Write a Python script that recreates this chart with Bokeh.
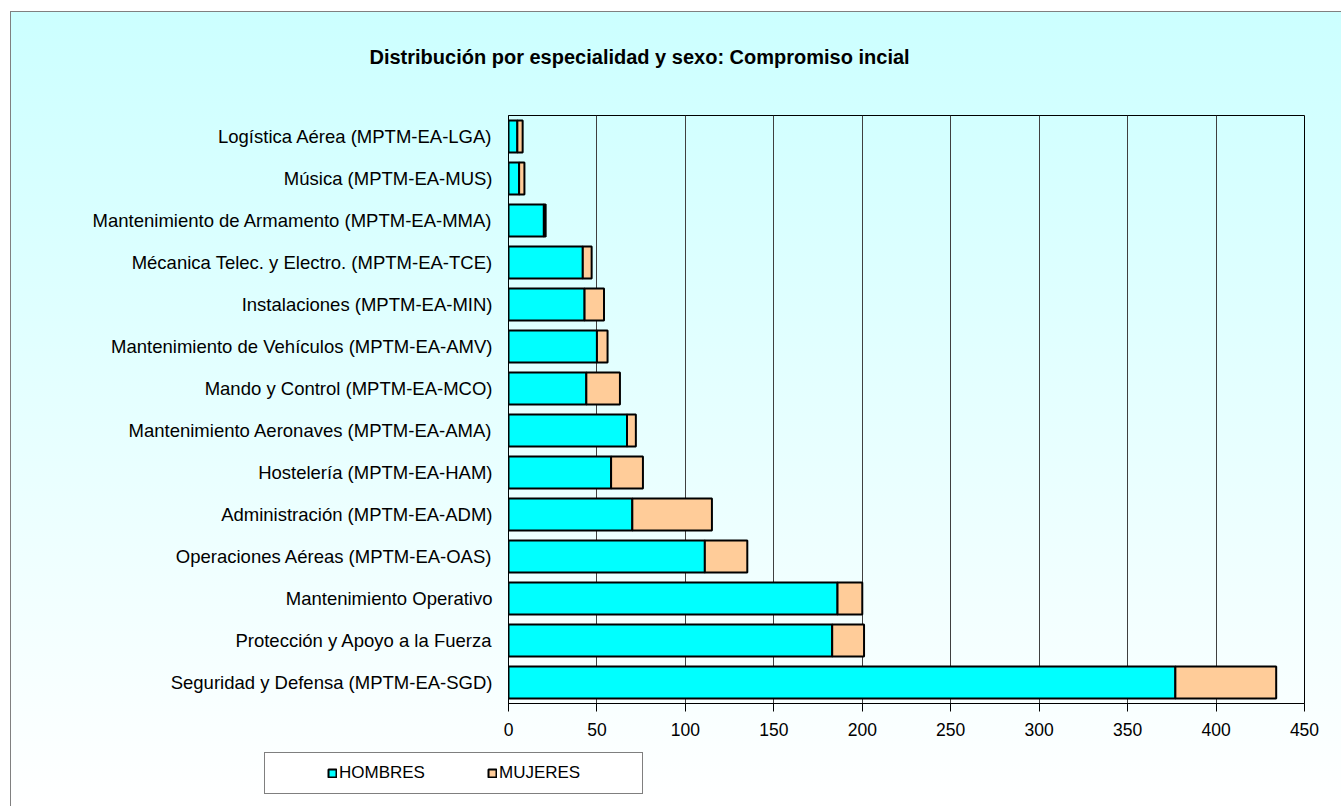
from bokeh.plotting import figure
from bokeh.layouts import column
from bokeh.models import Legend, LegendItem, FactorRange, Title, ColumnDataSource
from bokeh.embed import file_html
from bokeh.resources import INLINE

# Data (listed bottom -> top as drawn)
categories = [
    "Seguridad y Defensa (MPTM-EA-SGD)",
    "Protección y Apoyo a la Fuerza",
    "Mantenimiento Operativo",
    "Operaciones Aéreas (MPTM-EA-OAS)",
    "Administración (MPTM-EA-ADM)",
    "Hostelería (MPTM-EA-HAM)",
    "Mantenimiento Aeronaves (MPTM-EA-AMA)",
    "Mando y Control (MPTM-EA-MCO)",
    "Mantenimiento de Vehículos (MPTM-EA-AMV)",
    "Instalaciones (MPTM-EA-MIN)",
    "Mécanica Telec. y Electro. (MPTM-EA-TCE)",
    "Mantenimiento de Armamento (MPTM-EA-MMA)",
    "Música (MPTM-EA-MUS)",
    "Logística Aérea (MPTM-EA-LGA)",
]
hombres = [377, 183, 186, 111, 70, 58, 67, 44, 50, 43, 42, 20, 6, 5]
mujeres = [57, 18, 14, 24, 45, 18, 5, 19, 6, 11, 5, 1, 3, 3]
series = ["HOMBRES", "MUJERES"]
colors = ["#00FFFF", "#FFCC99"]
x_ticks = [0, 50, 100, 150, 200, 250, 300, 350, 400, 450]
title_text = "Distribución por especialidad y sexo: Compromiso incial"

FONT = "Liberation Sans"
W = 1330

source = ColumnDataSource(dict(cat=categories, HOMBRES=hombres, MUJERES=mujeres))

# ---- title strip ----
p0 = figure(width=W, height=78, x_range=(0, 1), y_range=(0, 1),
            output_backend="svg", toolbar_location=None,
            x_axis_location=None, y_axis_location=None,
            min_border_top=55, min_border_bottom=0)
p0.grid.visible = False
p0.outline_line_color = None
p0.background_fill_alpha = 0
p0.border_fill_alpha = 0
p0.add_layout(Title(text=title_text, align="left", offset=-139,
                    vertical_align="bottom", standoff=0,
                    text_font=FONT, text_font_size="20px", text_font_style="bold",
                    text_color="black"), "above")

# ---- main chart ----
p = figure(
    y_range=FactorRange(*categories),
    x_range=(0, 450),
    width=W, height=655,
    output_backend="svg", toolbar_location=None,
    min_border_left=497, min_border_right=37,
    min_border_top=25, min_border_bottom=42,
)
p.background_fill_alpha = 0
p.border_fill_alpha = 0
p.outline_line_color = "black"
p.outline_line_width = 1

p.hbar_stack(
    series, y="cat", height=0.76, source=source,
    color=colors, line_color="black", line_width=2,
)

p.xaxis.ticker = x_ticks
p.xaxis.major_label_text_font = FONT
p.xaxis.major_label_text_font_size = "17.5px"
p.xaxis.major_label_text_color = "black"
p.xaxis.major_label_standoff = 11
p.xaxis.major_tick_out = 8
p.xaxis.major_tick_in = 0
p.xaxis.minor_tick_line_color = None
p.xaxis.axis_line_color = "black"
p.xaxis.major_tick_line_color = "black"

p.yaxis.major_label_text_font = FONT
p.yaxis.major_label_text_font_size = "18.5px"
p.yaxis.major_label_text_color = "black"
p.yaxis.major_tick_line_color = None
p.yaxis.minor_tick_line_color = None
p.yaxis.major_label_standoff = 10
p.yaxis.axis_line_color = "black"

p.xgrid.grid_line_color = "#404040"
p.xgrid.grid_line_width = 1
p.ygrid.grid_line_color = None

# ---- legend strip (shifted left so the legend sits left of the plot frame) ----
p2 = figure(
    width=W, height=61, y_range=FactorRange(*categories), x_range=(0, 450),
    output_backend="svg", toolbar_location=None,
    x_axis_location=None, y_axis_location=None,
    min_border_top=0, min_border_bottom=0,
)
p2.grid.visible = False
p2.outline_line_color = None
p2.background_fill_alpha = 0
p2.border_fill_alpha = 0
p2.styles = {"position": "relative", "left": "-244px"}

leg_renderers = p2.hbar_stack(
    series, y="cat", height=0.76, source=source,
    color=colors, line_color="black", line_width=2,
)
for r in leg_renderers:
    r.visible = False
spacer = p2.rect(x=[], y=[], width=[], height=[], fill_alpha=0, line_alpha=0)

legend = Legend(
    items=[
        LegendItem(label=" ", renderers=[spacer]),
        LegendItem(label=series[0], renderers=[leg_renderers[0]]),
        LegendItem(label=" ", renderers=[spacer]),
        LegendItem(label=series[1], renderers=[leg_renderers[1]]),
        LegendItem(label=" ", renderers=[spacer]),
    ],
    orientation="horizontal",
    location=(0, 12),
    glyph_width=10, glyph_height=10,
    label_standoff=2, label_width=30, label_height=20,
    spacing=10, padding=10, margin=0,
    label_text_font=FONT, label_text_font_size="17px", label_text_color="black",
    border_line_color="black", border_line_width=1,
    background_fill_color="white", background_fill_alpha=1,
)
p2.add_layout(legend, "center")

layout = column(p0, p, p2, spacing=0)
layout.styles = {
    "background": "linear-gradient(to bottom, #CCFFFF 0%, #FFFFFF 100%)",
    "border-left": "1px solid #808080",
    "border-top": "1px solid #808080",
    "margin-left": "10px",
    "margin-top": "11px",
}

open("out.html", "w").write(file_html(layout, INLINE))
